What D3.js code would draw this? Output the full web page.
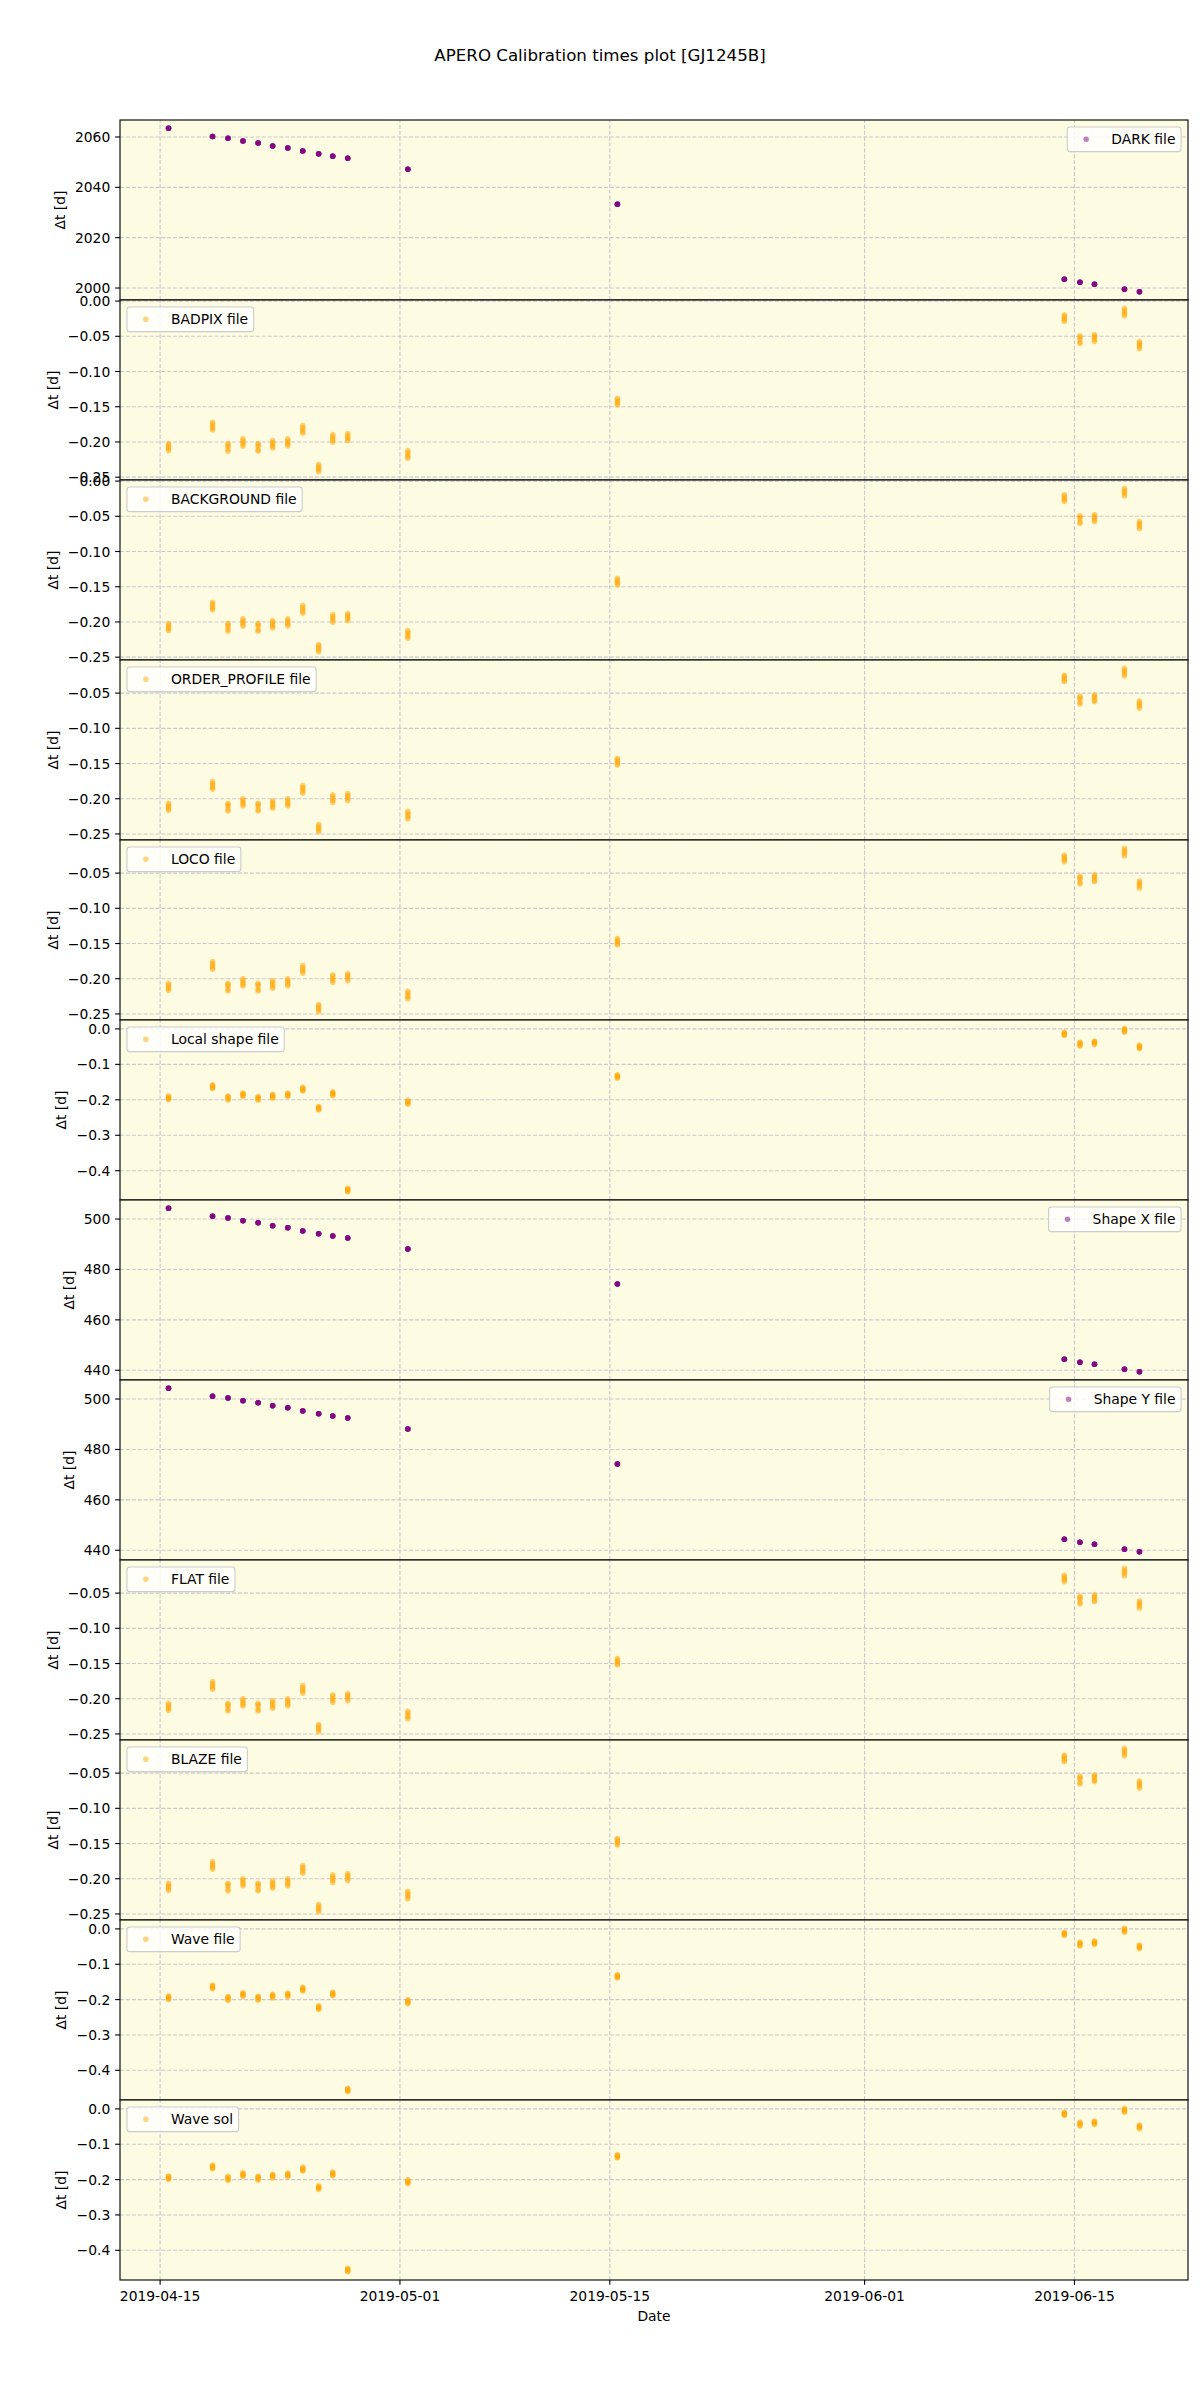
<!DOCTYPE html>
<html>
<head>
<meta charset="utf-8">
<script src="https://cdn.jsdelivr.net/npm/d3@7"></script>
<style>
  body { margin: 0; background: #ffffff; }
  svg { display: block; }
  text { font-family: "DejaVu Sans", sans-serif; fill: #000; }
</style>
</head>
<body>
<svg id="chart" width="1200" height="2400"></svg>
<script>
// ---------------- DATA ----------------
const titleText = "APERO Calibration times plot [GJ1245B]";
const xLabelText = "Date";
const yLabelText = "Δt [d]";

// observing nights (time of first exposure, UTC)
const nightTimes = [
  "2019-04-15T14:17", "2019-04-18T12:43", "2019-04-19T13:26", "2019-04-20T13:26",
  "2019-04-21T13:41", "2019-04-22T12:58", "2019-04-23T13:12", "2019-04-24T13:12",
  "2019-04-25T14:38", "2019-04-26T13:12", "2019-04-27T13:12", "2019-05-01T13:26",
  "2019-05-15T12:58", "2019-06-14T08:38", "2019-06-15T09:36", "2019-06-16T08:53",
  "2019-06-18T08:53", "2019-06-19T08:53"
];

// exposure times within each night, days after the first exposure
const exposureOffsets = [
  [0, 0.0025, 0.0051, 0.0077, 0.0103],
  [0, 0.0028, 0.0055, 0.0083, 0.0108],
  [0, 0.0021, 0.0042, 0.0085, 0.0108],
  [0, 0.0026, 0.0052, 0.0078, 0.0104],
  [0, 0.0020, 0.0041, 0.0086, 0.0110],
  [0, 0.0027, 0.0054, 0.0081, 0.0107],
  [0, 0.0026, 0.0052, 0.0077, 0.0103],
  [0, 0.0027, 0.0055, 0.0082, 0.0109],
  [0, 0.0026, 0.0052, 0.0078, 0.0104],
  [0, 0.0027, 0.0054, 0.0081, 0.0108],
  [0, 0.0025, 0.0051, 0.0077, 0.0103],
  [0, 0.0027, 0.0055, 0.0082, 0.0109],
  [0, 0.0023, 0.0047, 0.0070, 0.0094],
  [0, 0.0023, 0.0047, 0.0070, 0.0093],
  [0, 0.0022, 0.0044, 0.0088, 0.0110],
  [0, 0.0020, 0.0040, 0.0075, 0.0094],
  [0, 0.0028, 0.0056, 0.0084, 0.0112],
  [0, 0.0026, 0.0052, 0.0077, 0.0103]
];

// Δt of the first exposure of each night, per calibration file
const darkDt        = [2063.3, 2060.0, 2059.3, 2058.2, 2057.4, 2056.2, 2055.4, 2054.2, 2053.1, 2052.2, 2051.4, 2047.0, 2033.1, 2003.3, 2002.1, 2001.3, 1999.3, 1998.3];
const badpixDt      = [-0.2030, -0.1728, -0.2030, -0.1963, -0.2030, -0.1987, -0.1963, -0.1775, -0.2327, -0.1902, -0.1888, -0.2130, -0.1388, -0.0203, -0.0500, -0.0486, -0.0108, -0.0580];
const backgroundDt  = [-0.2030, -0.1728, -0.2030, -0.1963, -0.2030, -0.1987, -0.1963, -0.1775, -0.2327, -0.1902, -0.1888, -0.2130, -0.1388, -0.0203, -0.0500, -0.0486, -0.0108, -0.0580];
const orderProfDt   = [-0.2073, -0.1763, -0.2073, -0.2007, -0.2073, -0.2035, -0.2007, -0.1820, -0.2373, -0.1951, -0.1932, -0.2186, -0.1435, -0.0252, -0.0552, -0.0534, -0.0153, -0.0618];
const locoDt        = [-0.2073, -0.1763, -0.2073, -0.2007, -0.2073, -0.2035, -0.2007, -0.1820, -0.2373, -0.1951, -0.1932, -0.2186, -0.1435, -0.0252, -0.0552, -0.0534, -0.0153, -0.0618];
const localShapeDt  = [-0.191, -0.159, -0.191, -0.182, -0.192, -0.186, -0.182, -0.166, -0.220, -0.179, -0.4506, -0.203, -0.131, -0.0107, -0.039, -0.036, 0.0006, -0.047];
const shapeXDt      = [504.1, 500.9, 500.2, 499.1, 498.3, 497.1, 496.3, 495.1, 494.0, 493.1, 492.3, 487.9, 474.0, 444.2, 443.0, 442.2, 440.2, 439.2];
const shapeYDt      = [504.1, 500.9, 500.2, 499.1, 498.3, 497.1, 496.3, 495.1, 494.0, 493.1, 492.3, 487.9, 474.0, 444.2, 443.0, 442.2, 440.2, 439.2];
const flatDt        = [-0.2073, -0.1763, -0.2073, -0.2007, -0.2073, -0.2035, -0.2007, -0.1820, -0.2373, -0.1951, -0.1932, -0.2186, -0.1435, -0.0252, -0.0552, -0.0534, -0.0153, -0.0618];
const blazeDt       = [-0.2073, -0.1763, -0.2073, -0.2007, -0.2073, -0.2035, -0.2007, -0.1820, -0.2373, -0.1951, -0.1932, -0.2186, -0.1435, -0.0252, -0.0552, -0.0534, -0.0153, -0.0618];
const waveFileDt    = [-0.191, -0.160, -0.193, -0.182, -0.192, -0.186, -0.183, -0.1665, -0.219, -0.180, -0.452, -0.202, -0.131, -0.0107, -0.039, -0.036, 0.0006, -0.047];
const waveSolDt     = [-0.191, -0.160, -0.193, -0.182, -0.192, -0.186, -0.183, -0.1665, -0.219, -0.180, -0.452, -0.202, -0.131, -0.0107, -0.039, -0.036, 0.0006, -0.047];

const panelLabels = ["DARK file", "BADPIX file", "BACKGROUND file", "ORDER_PROFILE file", "LOCO file",
  "Local shape file", "Shape X file", "Shape Y file", "FLAT file", "BLAZE file", "Wave file", "Wave sol"];

// tick labels
const darkTicks = [2000, 2020, 2040, 2060];
const shapeTicks = [440, 460, 480, 500];
const hundredthTicks = [0.00, -0.05, -0.10, -0.15, -0.20, -0.25];
const tenthTicks = [0.0, -0.1, -0.2, -0.3, -0.4];
const xTickLabels = ["2019-04-15", "2019-05-01", "2019-05-15", "2019-06-01", "2019-06-15"];

// ---------------- LAYOUT / STYLE ----------------
const L = 120, R = 1188, T = 120, PH = 180;
const FS = 13.89;
const BG = "#fdfbe1";
const GRID = "#c9c9cf";
const ORANGE = "orange", PURPLE = "purple";
const TICKLEN = 4.86, TICKPAD = 4.86;

const fmtInt = d3.format("d"), fmt2 = d3.format(".2f"), fmt1 = d3.format(".1f");
const minusFix = f => v => f(v).replace("-", "\u2212");

const panels = [
  { label: panelLabels[0],  values: darkDt,       color: PURPLE, ticks: darkTicks,      fmt: minusFix(fmtInt), legend: "right" },
  { label: panelLabels[1],  values: badpixDt,     color: ORANGE, ticks: hundredthTicks, fmt: minusFix(fmt2),   legend: "left" },
  { label: panelLabels[2],  values: backgroundDt, color: ORANGE, ticks: hundredthTicks, fmt: minusFix(fmt2),   legend: "left" },
  { label: panelLabels[3],  values: orderProfDt,  color: ORANGE, ticks: hundredthTicks, fmt: minusFix(fmt2),   legend: "left" },
  { label: panelLabels[4],  values: locoDt,       color: ORANGE, ticks: hundredthTicks, fmt: minusFix(fmt2),   legend: "left" },
  { label: panelLabels[5],  values: localShapeDt, color: ORANGE, ticks: tenthTicks,     fmt: minusFix(fmt1),   legend: "left" },
  { label: panelLabels[6],  values: shapeXDt,     color: PURPLE, ticks: shapeTicks,     fmt: minusFix(fmtInt), legend: "right" },
  { label: panelLabels[7],  values: shapeYDt,     color: PURPLE, ticks: shapeTicks,     fmt: minusFix(fmtInt), legend: "right" },
  { label: panelLabels[8],  values: flatDt,       color: ORANGE, ticks: hundredthTicks, fmt: minusFix(fmt2),   legend: "left" },
  { label: panelLabels[9],  values: blazeDt,      color: ORANGE, ticks: hundredthTicks, fmt: minusFix(fmt2),   legend: "left" },
  { label: panelLabels[10], values: waveFileDt,   color: ORANGE, ticks: tenthTicks,     fmt: minusFix(fmt1),   legend: "left" },
  { label: panelLabels[11], values: waveSolDt,    color: ORANGE, ticks: tenthTicks,     fmt: minusFix(fmt1),   legend: "left" }
];

// ---------------- DRAW ----------------
const svg = d3.select("#chart");
svg.append("rect").attr("width", 1200).attr("height", 2400).attr("fill", "#fff");

const parseT = d3.utcParse("%Y-%m-%dT%H:%M");
const parseD = d3.utcParse("%Y-%m-%d");
const nightDates = nightTimes.map(parseT);
const xTickDates = xTickLabels.map(parseD);

const tExt = d3.extent(nightDates, d => +d);
const tPad = (tExt[1] - tExt[0]) * 0.05;
const x = d3.scaleUtc().domain([new Date(tExt[0] - tPad), new Date(tExt[1] + tPad)]).range([L, R]);

// title
svg.append("text").attr("x", 600).attr("y", 60.7).attr("text-anchor", "middle")
  .style("font-size", "16.67px").text(titleText);

const defs = svg.append("defs");

panels.forEach((p, i) => {
  const top = T + i * PH, bot = top + PH;
  const pts = [];
  p.values.forEach((v, j) => exposureOffsets[j].forEach(o => pts.push({ t: nightDates[j], v: v - o })));
  const ext = d3.extent(pts, d => d.v);
  const pad = (ext[1] - ext[0]) * 0.05;
  const y = d3.scaleLinear().domain([ext[0] - pad, ext[1] + pad]).range([bot, top]);
  const dom = y.domain();
  const ticks = p.ticks.filter(t => t >= dom[0] - 1e-9 && t <= dom[1] + 1e-9);

  const g = svg.append("g").attr("class", "panel");
  g.append("rect").attr("x", L).attr("y", top).attr("width", R - L).attr("height", PH).attr("fill", BG);

  // grid (vertical)
  const gx = g.append("g").attr("transform", `translate(0,${bot})`)
    .call(d3.axisBottom(x).tickValues(xTickDates).tickSize(-PH).tickFormat(""));
  gx.select(".domain").remove();
  gx.selectAll("line").attr("stroke", GRID).attr("stroke-width", 1.11).attr("stroke-dasharray", "4.1,1.8");
  // grid (horizontal)
  const gy = g.append("g").attr("transform", `translate(${L},0)`)
    .call(d3.axisLeft(y).tickValues(ticks).tickSize(-(R - L)).tickFormat(""));
  gy.select(".domain").remove();
  gy.selectAll("line").attr("stroke", GRID).attr("stroke-width", 1.11).attr("stroke-dasharray", "4.1,1.8");

  // points
  const cid = "clip" + i;
  defs.append("clipPath").attr("id", cid).append("rect")
    .attr("x", L).attr("y", top).attr("width", R - L).attr("height", PH);
  g.append("g").attr("clip-path", `url(#${cid})`)
    .selectAll("circle").data(pts).join("circle")
    .attr("cx", d => x(d.t)).attr("cy", d => y(d.v)).attr("r", 2.75)
    .attr("fill", p.color).attr("fill-opacity", 0.5);

  // spines
  g.append("rect").attr("x", L).attr("y", top).attr("width", R - L).attr("height", PH)
    .attr("fill", "none").attr("stroke", "#000").attr("stroke-width", 1.11);

  // y axis ticks + labels
  const ay = g.append("g").attr("transform", `translate(${L},0)`)
    .call(d3.axisLeft(y).tickValues(ticks).tickFormat(p.fmt).tickSize(TICKLEN).tickPadding(TICKPAD));
  ay.select(".domain").remove();
  ay.selectAll("line").attr("stroke", "#000").attr("stroke-width", 1.11);
  ay.selectAll("text").attr("dy", "0.36em").style("font-size", FS + "px")
    .style("font-family", '"DejaVu Sans", sans-serif').attr("fill", "#000");

  let maxW = 0;
  ay.selectAll("text").each(function () { maxW = Math.max(maxW, this.getBBox().width); });
  const labelBase = L - TICKLEN - TICKPAD - maxW - 10.2;
  g.append("text").attr("transform", `translate(${labelBase},${top + PH / 2}) rotate(-90)`)
    .attr("text-anchor", "middle").style("font-size", FS + "px").text(yLabelText);

  // legend
  const lg = g.append("g");
  const box = lg.append("rect");
  const lt = lg.append("text").style("font-size", FS + "px").text(p.label);
  const tw = lt.node().getComputedTextLength();
  const bw = 44 + tw + 5.56, bh = 24.7;
  const bx = p.legend === "left" ? L + 6.94 : R - 6.94 - bw;
  const by = top + 6.94;
  box.attr("x", bx).attr("y", by).attr("width", bw).attr("height", bh).attr("rx", 2.8)
    .attr("fill", "#fff").attr("fill-opacity", 0.8).attr("stroke", "#cccccc").attr("stroke-width", 1.11);
  lg.insert("circle", "text").attr("cx", bx + 18.9).attr("cy", by + 12.3).attr("r", 2.75)
    .attr("fill", p.color).attr("fill-opacity", 0.5);
  lt.attr("x", bx + 44).attr("y", by + 16.9);

  // x axis on last panel
  if (i === panels.length - 1) {
    const ax = g.append("g").attr("transform", `translate(0,${bot})`)
      .call(d3.axisBottom(x).tickValues(xTickDates).tickFormat((d, k) => xTickLabels[k])
        .tickSize(TICKLEN).tickPadding(TICKPAD));
    ax.select(".domain").remove();
    ax.selectAll("line").attr("stroke", "#000").attr("stroke-width", 1.11);
    ax.selectAll("text").attr("dy", null).attr("y", 2301 - bot).style("font-size", FS + "px")
      .style("font-family", '"DejaVu Sans", sans-serif').attr("fill", "#000");
    svg.append("text").attr("x", (L + R) / 2).attr("y", 2320.5).attr("text-anchor", "middle")
      .style("font-size", FS + "px").text(xLabelText);
  }
});
</script>
</body>
</html>
